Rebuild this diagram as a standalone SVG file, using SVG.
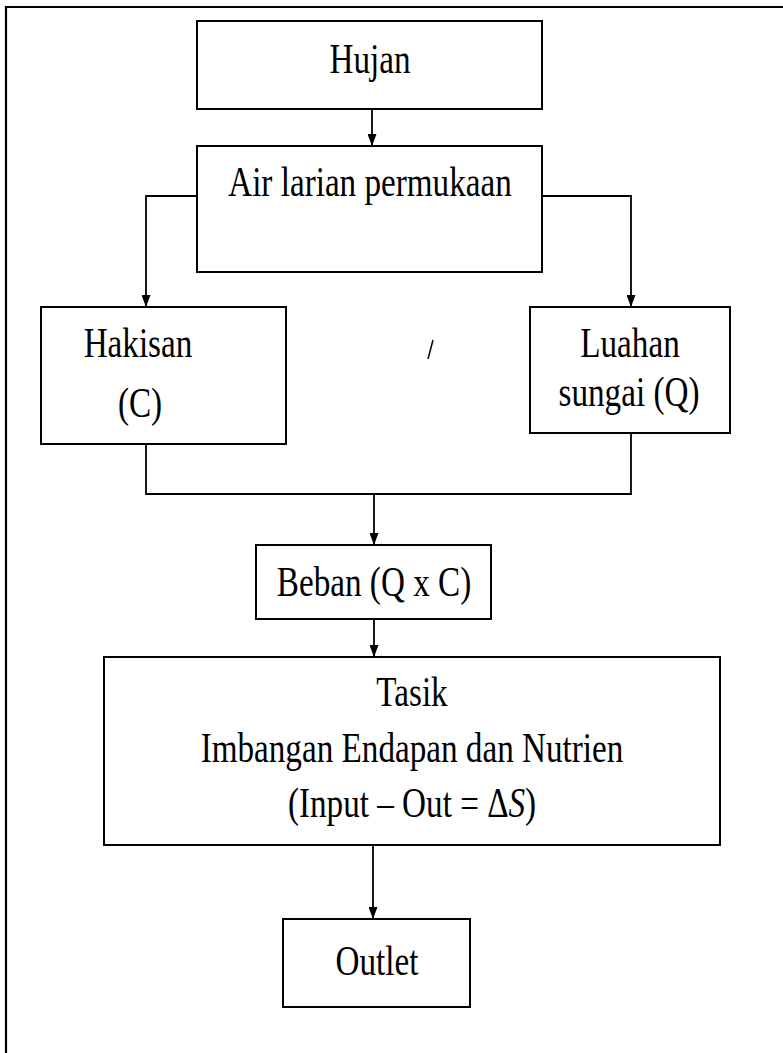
<svg xmlns="http://www.w3.org/2000/svg" width="783" height="1053" viewBox="0 0 783 1053">
<style>
.box{fill:#fff;stroke:#000;stroke-width:2}
.t{font-family:"Liberation Serif","Times New Roman",serif;font-size:42px;fill:#000;text-anchor:middle}
.c{fill:none;stroke:#000;stroke-width:1.8}
</style>
<defs>
<marker id="ah" markerUnits="userSpaceOnUse" markerWidth="12" markerHeight="9" refX="12" refY="4.5" orient="auto" viewBox="0 0 12 9">
<path d="M0,0 L12,4.5 L0,9 Z" fill="#000"/>
</marker>
</defs>
<rect width="783" height="1053" fill="#fff"/>
<path d="M6,1053 V7 H783" fill="none" stroke="#000" stroke-width="2.2"/>
<g id="connectors">
<path class="c" d="M372,109 V146" marker-end="url(#ah)"/>
<path class="c" d="M197,196 H146 V307" marker-end="url(#ah)"/>
<path class="c" d="M542,196 H631 V307" marker-end="url(#ah)"/>
<path class="c" d="M146,444 V494 H631 V433"/>
<path class="c" d="M374,494 V545" marker-end="url(#ah)"/>
<path class="c" d="M374,619 V657" marker-end="url(#ah)"/>
<path class="c" d="M373,845 V919" marker-end="url(#ah)"/>
</g>
<g id="hujan"><rect class="box" x="197" y="21" width="345" height="88"/><text class="t" transform="translate(370,73) scale(0.79,1)">Hujan</text></g>
<g id="air-larian"><rect class="box" x="197" y="146" width="345" height="126"/><text class="t" transform="translate(370,196) scale(0.79,1)">Air larian permukaan</text></g>
<g id="hakisan"><rect class="box" x="41" y="307" width="245" height="137"/><text class="t" transform="translate(138,357) scale(0.79,1)">Hakisan</text><text class="t" transform="translate(140,417) scale(0.79,1)">(C)</text></g>
<g id="luahan"><rect class="box" x="530" y="307" width="200" height="126"/><text class="t" transform="translate(630,357) scale(0.79,1)">Luahan</text><text class="t" transform="translate(629,406) scale(0.79,1)">sungai (Q)</text></g>
<g id="beban"><rect class="box" x="256" y="545" width="235" height="74"/><text class="t" transform="translate(374,596) scale(0.79,1)">Beban (Q x C)</text></g>
<g id="tasik"><rect class="box" x="104" y="657" width="616" height="188"/><text class="t" transform="translate(412,706) scale(0.79,1)">Tasik</text><text class="t" transform="translate(412,762) scale(0.79,1)">Imbangan Endapan dan Nutrien</text><text class="t" transform="translate(412,817) scale(0.79,1)">(Input – Out = Δ<tspan font-style="italic">S</tspan>)</text></g>
<g id="outlet"><rect class="box" x="283" y="919" width="187" height="88"/><text class="t" transform="translate(377,975) scale(0.79,1)">Outlet</text></g>
<line x1="433" y1="340" x2="428" y2="359" stroke="#000" stroke-width="1.5"/>
</svg>
